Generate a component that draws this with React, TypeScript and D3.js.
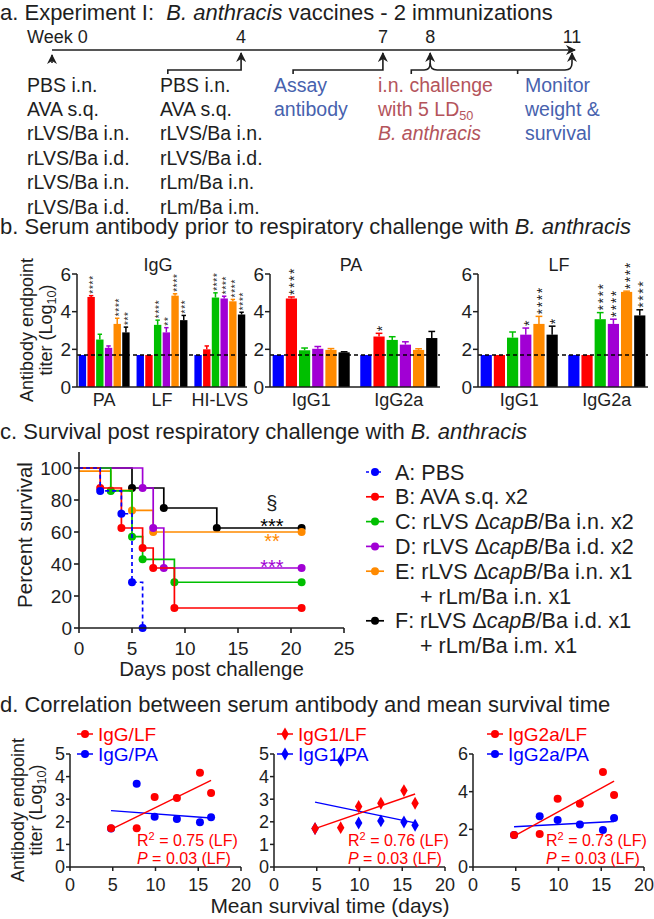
import React from 'react';
import * as d3 from 'd3';

const FONT = '"Liberation Sans", Arial, Helvetica, sans-serif';
const INK = '#1e1e1e';
const NOTE_BLUE = '#4762ae';
const NOTE_RED = '#b4545b';

// ---------- a. immunization schedule ----------
const weeks = [0, 4, 7, 8, 11];
const weekLabels = ['Week 0', '4', '7', '8', '11'];
const primeRoutes = ['PBS i.n.', 'AVA s.q.', 'rLVS/Ba i.n.', 'rLVS/Ba i.d.', 'rLVS/Ba i.n.', 'rLVS/Ba i.d.'];
const boostRoutes = ['PBS i.n.', 'AVA s.q.', 'rLVS/Ba i.n.', 'rLVS/Ba i.d.', 'rLm/Ba i.n.', 'rLm/Ba i.m.'];
const assayLines = ['Assay', 'antibody'];
const monitorLines = ['Monitor', 'weight &', 'survival'];

// ---------- b. serum antibody (log10 titer), groups A..F ----------
const groupColors = ['#0000ff', '#ff0000', '#00bf00', '#a100d4', '#ff8a00', '#000000'];
const titerTicks = [0, 2, 4, 6];
const detectionLimit = 1.7;

const iggAntigens = ['PA', 'LF', 'HI-LVS'];
const iggTiter = [
  [1.7, 4.78, 2.52, 2.08, 3.35, 2.9],
  [1.7, 1.7, 3.3, 2.9, 4.85, 3.55],
  [1.7, 2.0, 4.75, 4.7, 4.55, 3.85],
];
const iggSem = [
  [0, 0.07, 0.28, 0.1, 0.3, 0.28],
  [0, 0, 0.25, 0.25, 0.1, 0.25],
  [0, 0.18, 0.25, 0.12, 0.1, 0.12],
];
const iggStars = [
  [0, 4, 0, 0, 4, 3],
  [0, 0, 4, 2, 4, 3],
  [0, 0, 4, 4, 4, 4],
];

const subclasses = ['IgG1', 'IgG2a'];
const paTiter = [
  [1.7, 4.7, 1.95, 2.03, 1.97, 1.84],
  [1.7, 2.68, 2.5, 2.25, 1.97, 2.6],
];
const paSem = [
  [0, 0.08, 0.12, 0.12, 0.07, 0.03],
  [0, 0.17, 0.17, 0.15, 0.06, 0.35],
];
const paStars = [
  [0, 4, 0, 0, 0, 0],
  [0, 1, 0, 0, 0, 0],
];
const lfTiter = [
  [1.7, 1.7, 2.62, 2.78, 3.35, 2.78],
  [1.7, 1.7, 3.6, 3.35, 5.05, 3.8],
];
const lfSem = [
  [0, 0, 0.3, 0.35, 0.4, 0.45],
  [0, 0, 0.35, 0.25, 0.04, 0.3],
];
const lfStars = [
  [0, 0, 0, 1, 4, 1],
  [0, 0, 4, 4, 4, 4],
];

// ---------- c. survival (Kaplan-Meier steps) ----------
const survDaysA = [0, 2, 4, 5, 6];
const survPctA = [100, 85.7, 71.4, 28.6, 0];
const survDaysB = [0, 2, 4, 6, 7, 9, 21];
const survPctB = [100, 87.5, 62.5, 50, 37.5, 12.5, 12.5];
const survDaysC = [0, 3, 5, 6, 9, 21];
const survPctC = [100, 85.7, 57.1, 42.9, 28.6, 28.6];
const survDaysD = [0, 6, 7, 8, 21];
const survPctD = [100, 87.5, 62.5, 37.5, 37.5];
const survDaysE = [0, 3, 5, 7, 21];
const survPctE = [98, 86, 73.5, 60, 60];
const survDaysF = [0, 5, 8, 13, 21];
const survPctF = [100, 87.5, 75, 62.5, 62.5];
const survLegend = [
  ['A: PBS'],
  ['B: AVA s.q. x2'],
  ['C: rLVS Δ*capB*/Ba i.n. x2'],
  ['D: rLVS Δ*capB*/Ba i.d. x2'],
  ['E: rLVS Δ*capB*/Ba i.n. x1', '+ rLm/Ba i.n. x1'],
  ['F: rLVS Δ*capB*/Ba i.d. x1', '+ rLm/Ba i.m. x1'],
];
const survMarks = [
  { text: '§', group: 5, pct: 77, glyph: 0.27 },
  { text: '***', group: 5, pct: 66.3, glyph: 0.57 },
  { text: '**', group: 4, pct: 57, glyph: 0.57 },
  { text: '***', group: 3, pct: 40.6, glyph: 0.57 },
];

// ---------- d. titer vs mean survival time ----------
const mstDays = [4.8, 7.8, 9.9, 12.5, 15.2, 16.5];
const iggLF = [1.72, 1.72, 3.1, 3.05, 4.17, 3.27];
const iggPA = [1.7, 3.68, 2.22, 2.12, 1.98, 2.2];
const igg1LF = [1.7, 1.74, 2.68, 2.82, 3.38, 2.82];
const igg1PA = [1.7, 4.72, 1.95, 2.04, 1.99, 1.85];
const igg2aLF = [1.7, 1.75, 3.62, 3.36, 5.05, 3.82];
const igg2aPA = [1.7, 2.7, 2.5, 2.26, 1.97, 2.6];
const corrR2 = ['0.75', '0.76', '0.73'];
const corrP = ['0.03', '0.03', '0.03'];

const RED = '#ff0000';
const BLUE = '#0000ff';

// split "text *italic* text" into segments
function Rich({ s }: { s: string }) {
  return (
    <>
      {s.split('*').map((part, i) =>
        i % 2 ? <tspan key={i} fontStyle="italic">{part}</tspan> : <tspan key={i}>{part}</tspan>
      )}
    </>
  );
}

function TiterLabel({ x1, x2, cy, size }: { x1: number; x2: number; cy: number; size: number }) {
  return (
    <g fontSize={size} fill={INK} textAnchor="middle">
      <text transform={`translate(${x1},${cy}) rotate(-90)`}>Antibody endpoint</text>
      <text transform={`translate(${x2},${cy}) rotate(-90)`}>
        titer (Log<tspan dy={4} fontSize={size * 0.7}>10</tspan><tspan dy={-4}>)</tspan>
      </text>
    </g>
  );
}

function PanelA() {
  const wx = d3.scaleLinear().domain([0, 11]).range([52, 572]);
  const lineY = 50;
  const brY = 70;
  const tipY = 53;
  const bracketFrom = [2.45, 5.1, 7.6];
  const rowY = (i: number) => 91.5 + i * 24.4;
  const cols = [27, 160, 274, 378, 525];
  const fs = 19.5;
  return (
    <g fill={INK}>
      <text x={0} y={20} fontSize={22} style={{ whiteSpace: 'pre' }}>
        a. Experiment I:  <tspan fontStyle="italic">B. anthracis</tspan> vaccines - 2 immunizations
      </text>
      {weeks.map((w, i) => (
        <text key={w} x={i === 0 ? 27 : wx(w)} y={43} fontSize={18} textAnchor={i === 0 ? 'start' : 'middle'}>
          {weekLabels[i]}
        </text>
      ))}
      <g fill="none" stroke={INK} strokeWidth={1.6}>
        <path d={`M${wx(0)},${lineY}H${wx(11) + 3}`} markerEnd="url(#ah)" />
        <path d={`M${wx(0)},${lineY + 13}V${tipY + 2}`} markerEnd="url(#ah)" />
        {[4, 7].map((w, i) => (
          <path key={w} d={`M${wx(bracketFrom[i])},${brY + 4}V${brY}H${wx(w)}V${tipY}`} markerEnd="url(#ah)" />
        ))}
        <path
          d={`M${wx(bracketFrom[2])},${brY + 4}V${brY}H${wx(8) - 6}Q${wx(8)},${brY} ${wx(8)},${brY - 7}V${tipY}`}
          markerEnd="url(#ah)"
        />
        <path
          d={`M${wx(8)},${brY - 7}Q${wx(8)},${brY} ${wx(8) + 7},${brY}H${wx(11) - 7}Q${wx(11)},${brY} ${wx(11)},${brY - 7}V${tipY}`}
          markerEnd="url(#ah)"
        />
        <path d={`M${wx(9.85)},${brY}V${brY + 4}`} />
      </g>
      <g fontSize={fs}>
        {primeRoutes.map((t, i) => (
          <text key={'p' + i} x={cols[0]} y={rowY(i)}>{t}</text>
        ))}
        {boostRoutes.map((t, i) => (
          <text key={'b' + i} x={cols[1]} y={rowY(i)}>{t}</text>
        ))}
        {assayLines.map((t, i) => (
          <text key={'a' + i} x={cols[2]} y={rowY(i)} fill={NOTE_BLUE}>{t}</text>
        ))}
        <g fill={NOTE_RED}>
          <text x={cols[3]} y={rowY(0)}>i.n. challenge</text>
          <text x={cols[3]} y={rowY(1)}>
            with 5 LD<tspan dy={4} fontSize={fs * 0.65}>50</tspan>
          </text>
          <text x={cols[3]} y={rowY(2)} fontStyle="italic">B. anthracis</text>
        </g>
        {monitorLines.map((t, i) => (
          <text key={'m' + i} x={cols[4]} y={rowY(i)} fill={NOTE_BLUE}>{t}</text>
        ))}
      </g>
    </g>
  );
}

type BarsProps = {
  left: number;
  title: string;
  cats: string[];
  values: number[][];
  errors: number[][];
  stars: number[][];
  starSize: number;
  starStep: number;
};

function TiterBars({ left, title, cats, values, errors, stars, starSize, starStep }: BarsProps) {
  const width = 170;
  const y = d3.scaleLinear().domain([0, 6]).range([387, 274]);
  const gx = d3.scaleBand<string>().domain(cats).range([left, left + width]).paddingInner(0.12).paddingOuter(0.03);
  const bx = d3.scaleBand<number>().domain(d3.range(6)).range([0, gx.bandwidth()]).paddingInner(0.15);
  const bw = bx.bandwidth();
  // asterisks are set as one sideways string; spacing brings the glyph pitch to starStep
  const spacing = starStep - 0.389 * starSize;
  return (
    <g>
      <text x={left + width / 2 - 4} y={271} fontSize={18} textAnchor="middle" fill={INK}>{title}</text>
      {cats.map((c, gi) =>
        values[gi].map((v, k) => {
          const x0 = (gx(c) as number) + (bx(k) as number);
          const cx = x0 + bw / 2;
          const e = errors[gi][k];
          const top = y(v + e);
          const col = groupColors[k];
          const n = stars[gi][k];
          return (
            <g key={c + k}>
              <rect x={x0} y={y(v)} width={bw} height={y(0) - y(v)} fill={col} />
              {e > 0 && (
                <g stroke={col} strokeWidth={1.5}>
                  <line x1={cx} x2={cx} y1={y(v)} y2={top} />
                  <line x1={cx - bw * 0.3} x2={cx + bw * 0.3} y1={top} y2={top} />
                </g>
              )}
              {n > 0 && (
                <text
                  transform={`translate(${cx},${top - 2}) rotate(-90)`}
                  y={0.57 * starSize}
                  fontSize={starSize}
                  letterSpacing={spacing}
                  fill={INK}
                >
                  {'*'.repeat(n)}
                </text>
              )}
            </g>
          );
        })
      )}
      <line x1={left} x2={left + width} y1={y(detectionLimit)} y2={y(detectionLimit)} stroke="#000" strokeWidth={1.3} strokeDasharray="4,3" />
      <g stroke={INK} strokeWidth={1.5}>
        <line x1={left} x2={left} y1={y(0)} y2={y(6)} />
        <line x1={left} x2={left + width} y1={y(0)} y2={y(0)} />
        {titerTicks.map((t) => (
          <line key={t} x1={left - 5} x2={left} y1={y(t)} y2={y(t)} />
        ))}
      </g>
      {titerTicks.map((t) => (
        <text key={t} x={left - 6} y={y(t) + 6.8} fontSize={19} textAnchor="end" fill={INK}>{t}</text>
      ))}
      {cats.map((c) => (
        <text key={c} x={(gx(c) as number) + gx.bandwidth() / 2} y={406} fontSize={18} textAnchor="middle" fill={INK}>{c}</text>
      ))}
    </g>
  );
}

function PanelB() {
  return (
    <g>
      <text x={0} y={234} fontSize={22} fill={INK}>
        b. Serum antibody prior to respiratory challenge with <tspan fontStyle="italic">B. anthracis</tspan>
      </text>
      <TiterLabel x1={33} x2={52} cy={330} size={18} />
      <TiterBars left={77} title="IgG" cats={iggAntigens} values={iggTiter} errors={iggSem} stars={iggStars} starSize={10} starStep={4.6} />
      <TiterBars left={270} title="PA" cats={subclasses} values={paTiter} errors={paSem} stars={paStars} starSize={14} starStep={7} />
      <TiterBars left={478} title="LF" cats={subclasses} values={lfTiter} errors={lfSem} stars={lfStars} starSize={14} starStep={7} />
    </g>
  );
}

function PanelC() {
  const x = d3.scaleLinear().domain([0, 25]).range([79, 344]);
  const y = d3.scaleLinear().domain([0, 110]).range([628, 452]);
  const curves = [
    [survDaysA, survPctA],
    [survDaysB, survPctB],
    [survDaysC, survPctC],
    [survDaysD, survPctD],
    [survDaysE, survPctE],
    [survDaysF, survPctF],
  ];
  const step = d3
    .line<[number, number]>()
    .x((d) => x(d[0]))
    .y((d) => y(d[1]))
    .curve(d3.curveStepAfter);
  const order = [5, 4, 3, 2, 1, 0];
  const legendY = (row: number) => 472 + row * 24.8;
  let row = 0;
  return (
    <g>
      <text x={0} y={439} fontSize={22} fill={INK}>
        c. Survival post respiratory challenge with <tspan fontStyle="italic">B. anthracis</tspan>
      </text>
      {order.map((g) => {
        const [days, pct] = curves[g];
        const pts = days.map((d, i) => [d, pct[i]] as [number, number]);
        return (
          <g key={g}>
            <path d={step(pts) || ''} fill="none" stroke={groupColors[g]} strokeWidth={1.7} strokeDasharray={g === 0 ? '4,3' : undefined} />
            {pts.slice(1).map((p, i) => (
              <circle key={i} cx={x(p[0])} cy={y(p[1])} r={4} fill={groupColors[g]} />
            ))}
          </g>
        );
      })}
      {survMarks.map((m, i) => (
        <text key={i} x={x(18.2)} y={y(m.pct) + m.glyph * 20} fontSize={20} textAnchor="middle" fill={m.text === '§' ? INK : groupColors[m.group]}>
          {m.text}
        </text>
      ))}
      <g stroke={INK} strokeWidth={1.6}>
        <line x1={x(0)} x2={x(0)} y1={y(0)} y2={y(110)} />
        <line x1={x(0)} x2={x(25)} y1={y(0)} y2={y(0)} />
        {d3.range(0, 101, 20).map((t) => (
          <line key={t} x1={x(0) - 5} x2={x(0)} y1={y(t)} y2={y(t)} />
        ))}
        {d3.range(0, 26, 5).map((t) => (
          <line key={t} x1={x(t)} x2={x(t)} y1={y(0)} y2={y(0) + 5} />
        ))}
      </g>
      <g fontSize={19} fill={INK}>
        {d3.range(0, 101, 20).map((t) => (
          <text key={t} x={x(0) - 7} y={y(t) + 6.8} textAnchor="end">{t}</text>
        ))}
        {d3.range(0, 26, 5).map((t) => (
          <text key={t} x={x(t)} y={655} textAnchor="middle">{t}</text>
        ))}
      </g>
      <text transform={`translate(32,${(y(0) + y(100)) / 2 - 13}) rotate(-90)`} fontSize={20.5} textAnchor="middle" fill={INK}>
        Percent survival
      </text>
      <text x={(x(0) + x(25)) / 2} y={676} fontSize={20.5} textAnchor="middle" fill={INK}>Days post challenge</text>
      <g fontSize={21.5} fill={INK}>
        {survLegend.map((lines, g) => {
          const r0 = row;
          row += lines.length;
          const cy = legendY(r0);
          return (
            <g key={g}>
              <line x1={366} x2={384} y1={cy} y2={cy} stroke={groupColors[g]} strokeWidth={1.7} strokeDasharray={g === 0 ? '3,3' : undefined} />
              <circle cx={375} cy={cy} r={4} fill={groupColors[g]} />
              {lines.map((l, j) => (
                <text key={j} x={j === 0 ? 395 : 420} y={legendY(r0 + j) + 7.6} style={{ whiteSpace: 'pre' }}>
                  <Rich s={l} />
                </text>
              ))}
            </g>
          );
        })}
      </g>
    </g>
  );
}

function fitLine(xs: number[], ys: number[]) {
  const mx = d3.mean(xs) as number;
  const my = d3.mean(ys) as number;
  const sxy = d3.sum(xs, (v, i) => (v - mx) * (ys[i] - my));
  const sxx = d3.sum(xs, (v) => (v - mx) * (v - mx));
  const slope = sxy / sxx;
  return (v: number) => my + slope * (v - mx);
}

type CorrProps = {
  left: number;
  yMax: number;
  yTicks: number[];
  lf: number[];
  pa: number[];
  sub: string;
  r2: string;
  p: string;
  diamond?: boolean;
  legendDx: number;
  noteDx: number;
  pGap: string;
};

function Corr({ left, yMax, yTicks, lf, pa, sub, r2, p, diamond, legendDx, noteDx, pGap }: CorrProps) {
  const x = d3.scaleLinear().domain([0, 20]).range([left, left + 171]);
  const y = d3.scaleLinear().domain([0, yMax]).range([867, 754]);
  const sym = d3.symbol().type(d3.symbolDiamond).size(48);
  const mark = (cx: number, cy: number, col: string, key: string | number) =>
    diamond ? (
      <path key={key} d={sym() || ''} transform={`translate(${cx},${cy})`} fill={col} />
    ) : (
      <circle key={key} cx={cx} cy={cy} r={4} fill={col} />
    );
  const x0 = d3.min(mstDays) as number;
  const x1 = d3.max(mstDays) as number;
  const series: [number[], string][] = [
    [pa, BLUE],
    [lf, RED],
  ];
  const legend: [string, string][] = [
    [`${sub}/LF`, RED],
    [`${sub}/PA`, BLUE],
  ];
  return (
    <g>
      {series.map(([vals, col]) => {
        const f = fitLine(mstDays, vals);
        return (
          <g key={col}>
            {mstDays.map((d, i) => mark(x(d), y(vals[i]), col, i))}
            <line x1={x(x0)} x2={x(x1)} y1={y(f(x0))} y2={y(f(x1))} stroke={col} strokeWidth={1.4} />
          </g>
        );
      })}
      <g stroke={INK} strokeWidth={1.5}>
        <line x1={left} x2={left} y1={y(0)} y2={y(yMax)} />
        <line x1={left} x2={x(20)} y1={y(0)} y2={y(0)} />
        {yTicks.map((t) => (
          <line key={t} x1={left - 4} x2={left} y1={y(t)} y2={y(t)} />
        ))}
        {d3.range(0, 21, 5).map((t) => (
          <line key={t} x1={x(t)} x2={x(t)} y1={y(0)} y2={y(0) + 4} />
        ))}
      </g>
      <g fontSize={18} fill={INK}>
        {yTicks.map((t) => (
          <text key={t} x={left - 5} y={y(t) + 6.4} textAnchor="end">{t}</text>
        ))}
        {d3.range(0, 21, 5).map((t) => (
          <text key={t} x={x(t)} y={891} textAnchor="middle">{t}</text>
        ))}
      </g>
      {legend.map(([label, col], i) => {
        const cy = 734 + i * 20;
        const cx = left + legendDx;
        return (
          <g key={label}>
            <line x1={cx - 8} x2={cx + 8} y1={cy} y2={cy} stroke={col} strokeWidth={1.5} />
            {mark(cx, cy, col, 'l')}
            <text x={cx + 13} y={cy + 6.6} fontSize={19} fill={col}>{label}</text>
          </g>
        );
      })}
      <g fontSize={16} fill={RED} style={{ whiteSpace: 'pre' }}>
        <text x={left + noteDx} y={846}>
          R<tspan dy={-6} fontSize={11}>2</tspan>
          <tspan dy={6}> = {r2} (LF)</tspan>
        </text>
        <text x={left + noteDx} y={864}>
          <tspan fontStyle="italic">P</tspan>
          {`${pGap}=${pGap}${p} (LF)`}
        </text>
      </g>
    </g>
  );
}

function PanelD() {
  return (
    <g>
      <text x={0} y={712} fontSize={22} fill={INK}>d. Correlation between serum antibody and mean survival time</text>
      <TiterLabel x1={24} x2={42} cy={810} size={18} />
      <Corr left={70} yMax={5} yTicks={[0, 1, 2, 3, 4, 5]} lf={iggLF} pa={iggPA} sub="IgG" r2={corrR2[0]} p={corrP[0]} legendDx={15} noteDx={67} pGap="  " />
      <Corr left={274} yMax={5} yTicks={[0, 1, 2, 3, 4, 5]} lf={igg1LF} pa={igg1PA} sub="IgG1" r2={corrR2[1]} p={corrP[1]} diamond legendDx={11} noteDx={74} pGap=" " />
      <Corr left={473} yMax={6} yTicks={[0, 2, 4, 6]} lf={igg2aLF} pa={igg2aPA} sub="IgG2a" r2={corrR2[2]} p={corrP[2]} legendDx={22} noteDx={73} pGap=" " />
      <text x={330} y={913} fontSize={21} textAnchor="middle" fill={INK}>Mean survival time (days)</text>
    </g>
  );
}

export default function App() {
  return (
    <svg
      width={654}
      height={919}
      viewBox="0 0 654 919"
      fontFamily={FONT}
      style={{ position: 'absolute', left: 0, top: 0, background: '#fff' }}
    >
      <defs>
        <marker id="ah" viewBox="0 0 10 10" refX={9} refY={5} markerWidth={10} markerHeight={10} markerUnits="userSpaceOnUse" orient="auto">
          <path d="M0,0 L10,5 L0,10 L3,5 Z" fill={INK} />
        </marker>
      </defs>
      <rect width={654} height={919} fill="#fff" />
      <PanelA />
      <PanelB />
      <PanelC />
      <PanelD />
    </svg>
  );
}
